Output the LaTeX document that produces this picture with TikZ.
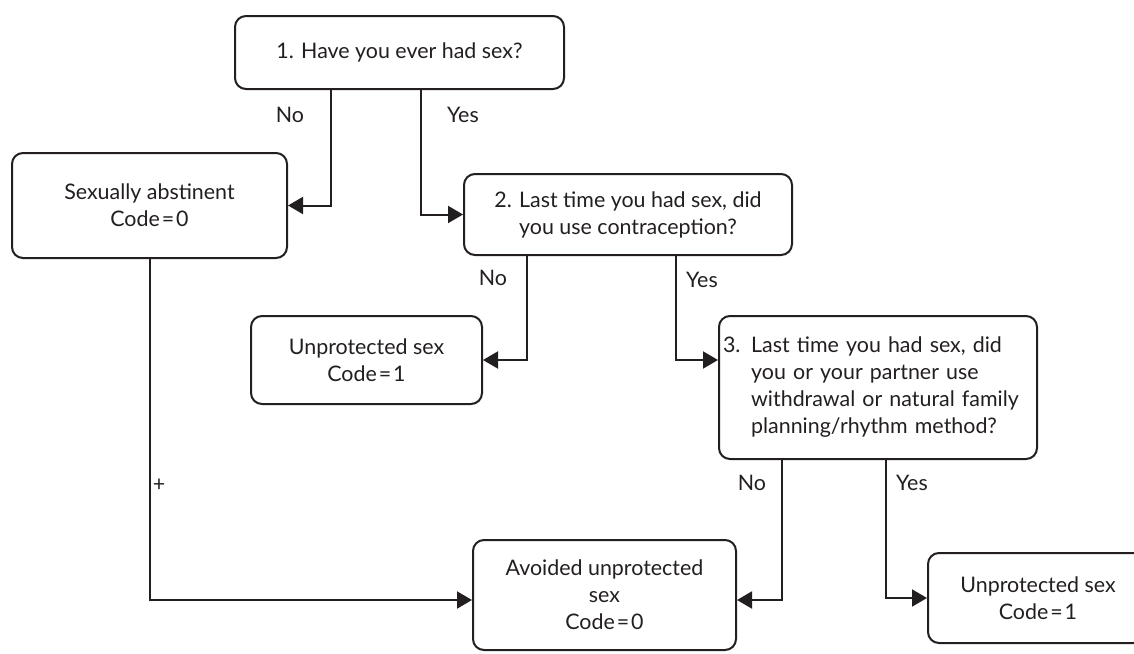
\documentclass[tikz,border=0pt]{standalone}
\usepackage{fontspec}
\setmainfont{Lato}
\usetikzlibrary{arrows.meta}
\definecolor{ink}{HTML}{231F20}
\newcommand{\codeis}[1]{Code\kern1pt=\kern1pt#1}
\begin{document}
\begin{tikzpicture}[
  x=0.5pt,y=-0.5pt,
  >={Triangle[length=7.5pt,width=8.5pt]},
  box/.style={draw=ink,line width=1pt,rounded corners=5.5pt,fill=white,
    align=center,inner sep=0pt,text=ink,font=\fontsize{10.7}{13.5}\selectfont},
  note/.style={text=ink,font=\fontsize{10.7}{13.5}\selectfont,inner sep=0pt},
  link/.style={draw=ink,line width=1pt,->}
]
  \useasboundingbox (0,0) rectangle (1134,653);

  \node[box,minimum width=164.5pt,minimum height=36.5pt] (q1) at (399.5,52.5)
    {1. Have you ever had sex?};
  \node[box,minimum width=137.5pt,minimum height=52.5pt] (abst) at (149.5,205.5)
    {Sexually abstinent\\\codeis{0}};
  \node[box,minimum width=164pt,minimum height=40.5pt] (q2) at (628,214.5)
    {2. Last time you had sex, did\\you use contraception?};
  \node[box,minimum width=115.5pt,minimum height=44pt] (unp1) at (366.5,360)
    {Unprotected sex\\\codeis{1}};
  \node[box,align=left,text width=155pt,inner xsep=2pt,minimum height=71.5pt] (q3) at (878,387.5)
    {3. Last time you had sex, did\\\hphantom{3. }you or your partner use\\
     \hphantom{3. }withdrawal or natural family\\\hphantom{3. }planning/rhythm method?};
  \node[box,minimum width=131.5pt,minimum height=55pt] (avoid) at (604.5,595)
    {Avoided unprotected\\sex\\\codeis{0}};
  \node[box,minimum width=110pt,minimum height=45pt] (unp2) at (1038,598)
    {Unprotected sex\\\codeis{1}};

  % branch points on the box edges
  \coordinate (q1no) at (331,89);
  \coordinate (q1yes) at (421,89);
  \coordinate (q2no) at (527,255);
  \coordinate (q2yes) at (676,255);
  \coordinate (q3no) at (782,459);
  \coordinate (q3yes) at (886,459);

  \draw[link] (q1no) |- (abst.east);
  \draw[link] (q1yes) |- (q2.west);
  \draw[link] (q2no) |- (unp1.east);
  \draw[link] (q2yes) |- (unp1 -| q3.west);
  \draw[link] (abst.south) |- ([yshift=-2.5pt]avoid.west);
  \draw[link] (q3no) |- ([yshift=-2.5pt]avoid.east);
  \draw[link] (q3yes) |- (unp2.west);

  \node[note] (n1) at (290,115) {No};
  \node[note] (y1) at (463,115) {Yes};
  \node[note] (n2) at (493,278) {No};
  \node[note] (y2) at (702,280) {Yes};
  \node[note] (n3) at (752,483) {No};
  \node[note] (y3) at (912,483) {Yes};
  \node[note] (plus) at (159,485) {+};
\end{tikzpicture}
\end{document}
